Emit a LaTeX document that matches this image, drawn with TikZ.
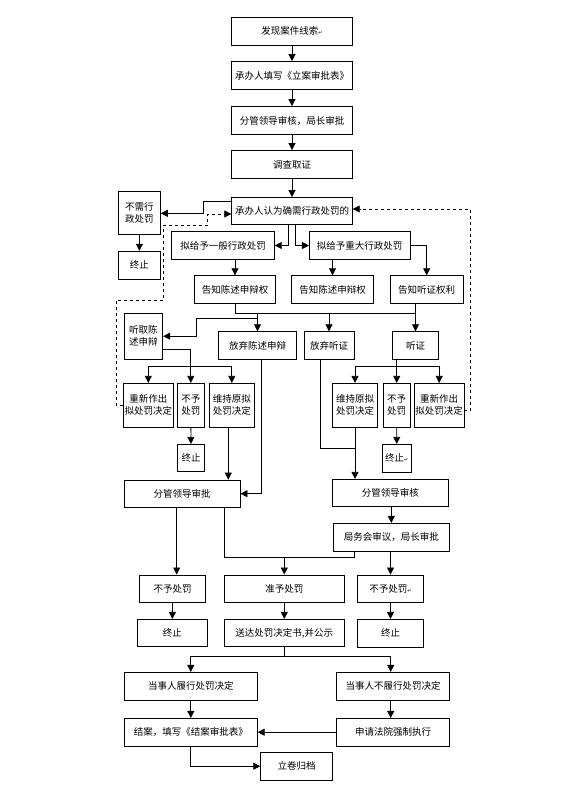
\documentclass[tikz,border=0pt]{standalone}
\usepackage{fontspec}
\newfontfamily\cjk{Noto Sans CJK SC}
\newfontfamily\symfont{DejaVu Sans}
\newcommand{\retmark}{{\symfont\tiny ↵}}
\usetikzlibrary{arrows.meta}

\tikzset{
  box/.style={draw, inner sep=1pt, align=center, font=\cjk\fontsize{9.5}{12}\selectfont},
  arr/.style={-{Triangle[length=7pt,width=7pt]}},
}

\begin{document}
\begin{tikzpicture}[x=1pt,y=-1pt,line width=0.8pt]
    \useasboundingbox[fill=white] (0,0) rectangle (564,795);

    % Opening the case
    \node[box, minimum width=120.6pt, minimum height=28pt] (find) at (292,31) {发现案件线索\retmark};
    \node[box, minimum width=120.6pt, minimum height=28pt] (fill) at (292,75.5) {承办人填写《立案审批表》};
    \node[box, minimum width=120.6pt, minimum height=28pt] (check) at (292,120.5) {分管领导审核，局长审批};
    \node[box, minimum width=120.6pt, minimum height=28pt] (invest) at (292,164.5) {调查取证};
    \node[box, minimum width=120.6pt, minimum height=27pt] (need) at (292,211) {承办人认为确需行政处罚的};

    \draw[arr] (find) -- (fill);
    \draw[arr] (fill) -- (check);
    \draw[arr] (check) -- (invest);
    \draw[arr] (invest) -- (need);

    % No penalty needed
    \node[box, minimum width=42pt, minimum height=43pt] (nopen) at (139.4,213.3) {不需行\\政处罚};
    \node[box, minimum width=42pt, minimum height=28pt] (stopA) at (139.4,265.2) {终止};
    \draw[arr] ([yshift=-4pt]need.north west) -- ++(-28.4,0) |- (nopen.east);
    \draw[arr] (nopen) -- (stopA);

    % Proposed penalties
    \node[box, minimum width=102.6pt, minimum height=27.6pt] (gen) at (223,245.5) {拟给予一般行政处罚};
    \node[box, minimum width=100.7pt, minimum height=27.6pt] (maj) at (359.7,245.5) {拟给予重大行政处罚};
    \draw[arr] ([xshift=-4pt]need.south) |- (gen.east);
    \draw[arr] ([xshift=3pt]need.south) |- (maj.west);

    % Notices
    \node[box, minimum width=81.4pt, minimum height=27.6pt] (tellA) at (235,289.5) {告知陈述申辩权};
    \node[box, minimum width=81.6pt, minimum height=27.6pt] (tellB) at (332.5,289.5) {告知陈述申辩权};
    \node[box, minimum width=73.3pt, minimum height=27.6pt] (tellC) at (426.7,289.5) {告知听证权利};
    \draw[arr] (gen.south -| tellA.north) -- (tellA.north);
    \draw[arr] (maj.south -| tellB.north) -- (tellB.north);
    \draw[arr] (maj.east) -| (tellC.north);

    % Statements and hearings
    \node[box, minimum width=38.7pt, minimum height=45.7pt] (hear) at (143.4,336.2) {听取陈\\述申辩};
    \node[box, minimum width=78.4pt, minimum height=27.6pt] (waiveA) at (257.5,345.5) {放弃陈述申辩};
    \node[box, minimum width=50pt, minimum height=27.6pt] (waiveB) at (329,345.5) {放弃听证};
    \node[box, minimum width=45.6pt, minimum height=27.6pt] (hearing) at (415.5,345.5) {听证};

    \path (tellA.south) ++(0,9.4) coordinate (bus1);
    \path (tellA.south) ++(0,15) coordinate (bus2);
    \draw (tellA.south) -- (bus1) -| (hearing.north |- tellC.south);
    \draw[arr] (hearing.north |- bus1) -- (hearing.north);
    \draw[arr] (bus1 -| waiveA.north) -- (waiveA.north);
    \draw[arr] (bus1 -| waiveB.north) -- (waiveB.north);
    \draw[arr] (bus2 -| waiveA.north) -- ++(-61.5,0) |- (hear.east);

    % Left decisions
    \node[box, minimum width=48pt, minimum height=44pt] (renewL) at (148.3,405.3) {重新作出\\拟处罚决定};
    \node[box, minimum width=27pt, minimum height=44pt] (noneL) at (190.8,405.3) {不予\\处罚};
    \node[box, minimum width=45pt, minimum height=44pt] (keepL) at (231.8,405.3) {维持原拟\\处罚决定};
    \node[box, minimum width=26.6pt, minimum height=27.4pt] (stopB) at (191,458) {终止};

    \path (noneL.north) ++(0,-16.6) coordinate (busL);
    \draw[arr] ([yshift=-13pt]hear.east) -| (noneL.north);
    \draw[arr] (busL) -| (renewL.north);
    \draw[arr] (busL) -| (keepL.north);
    \draw[arr] (noneL) -- (stopB);

    % Right decisions
    \node[box, minimum width=45.4pt, minimum height=44pt] (keepR) at (355,405.3) {维持原拟\\处罚决定};
    \node[box, minimum width=26.7pt, minimum height=44pt] (noneR) at (396.7,405.3) {不予\\处罚};
    \node[box, minimum width=48.3pt, minimum height=44pt] (renewR) at (439.2,405.3) {重新作出\\拟处罚决定};
    \node[box, minimum width=28.3pt, minimum height=28pt] (stopC) at (396.8,458.3) {终止\retmark};

    \path (noneR.north) ++(0,-16.6) coordinate (busR);
    \draw[arr] (hearing.south -| noneR.north) -- (noneR.north);
    \draw[arr] (busR) -| (keepR.north);
    \draw[arr] (busR) -| (renewR.north);
    \draw[arr] (noneR) -- (stopC);

    % Dashed returns
    \draw[dashed,arr] ([yshift=-5.4pt]renewR.east) -- ++(6,0) |- ([yshift=2pt]need.east);
    \draw[dashed,arr] (renewL.west) -- ++(-7,0) -- ++(0,-105.3) -- ++(47.7,0)
        -- ++(0,-75) -- ++(44,0) |- ([yshift=-3pt]need.west);

    % Leader approval
    \node[box, minimum width=115.7pt, minimum height=27.3pt] (leadA) at (182.2,493.7) {分管领导审批};
    \node[box, minimum width=116pt, minimum height=27.4pt] (leadB) at (390.3,493) {分管领导审核};
    \node[box, minimum width=116pt, minimum height=27.7pt] (meet) at (391.3,537.2) {局务会审议，局长审批};

    \draw[arr] ([xshift=-3.5pt]keepL.south) -- ([xshift=-3.5pt]keepL.south |- leadA.north);
    \draw[arr] ([xshift=4pt]waiveA.south) |- (leadA.east);
    \draw[arr] (keepR.south) -- (keepR.south |- leadB.north);
    \draw ([xshift=-8.3pt]waiveB.south) -- ++(0,89) coordinate (j1) -- (j1 -| keepR.south);
    \draw[arr] (leadB.south -| meet.north) -- (meet.north);

    % Outcomes
    \node[box, minimum width=66.4pt, minimum height=27.7pt] (noneP) at (172.5,588.8) {不予处罚};
    \node[box, minimum width=120pt, minimum height=27.7pt] (allowP) at (284.3,588.8) {准予处罚};
    \node[box, minimum width=65.6pt, minimum height=27.7pt] (noneQ) at (390.5,588.8) {不予处罚\retmark};
    \node[box, minimum width=70pt, minimum height=27.4pt] (stopD) at (172.3,633) {终止};
    \node[box, minimum width=120pt, minimum height=27.4pt] (serve) at (284.3,633) {送达处罚决定书,并公示};
    \node[box, minimum width=65.6pt, minimum height=28pt] (stopE) at (390.5,633.3) {终止};

    \path (allowP.north) ++(0,-16.7) coordinate (bus3);
    \draw[arr] ([xshift=-5.5pt]leadA.south) -- ([xshift=-5.5pt]leadA.south |- noneP.north);
    \draw ([xshift=42pt]leadA.south) |- (bus3) -| ([xshift=-37pt]meet.south);
    \draw[arr] (bus3) -- (allowP.north);
    \draw[arr] (meet.south -| noneQ.north) -- (noneQ.north);
    \draw[arr] (noneP) -- (stopD);
    \draw[arr] (allowP) -- (serve);
    \draw[arr] (noneQ) -- (stopE);

    % Execution and closing
    \node[box, minimum width=133pt, minimum height=27.7pt] (comply) at (190.8,686.2) {当事人履行处罚决定};
    \node[box, minimum width=112.6pt, minimum height=27.7pt] (refuse) at (393,686.2) {当事人不履行处罚决定};
    \node[box, minimum width=133pt, minimum height=27.7pt] (close) at (190.8,732.2) {结案，填写《结案审批表》};
    \node[box, minimum width=112.6pt, minimum height=27.7pt] (court) at (393,732.2) {申请法院强制执行};
    \node[box, minimum width=71.6pt, minimum height=27.7pt] (archive) at (296.5,766.2) {立卷归档};

    \path (serve.south) ++(0,9.3) coordinate (bus4);
    \draw (serve.south) -- (bus4);
    \draw[arr] (bus4) -| (comply.north);
    \draw[arr] (bus4) -| ([xshift=-2.3pt]refuse.north);
    \draw[arr] (comply) -- (close);
    \draw[arr] ([xshift=-2.3pt]refuse.south) -- ([xshift=-2.3pt]court.north);
    \draw[arr] (court) -- (close);
    \draw[arr] (close.south) |- (archive.west);
\end{tikzpicture}
\end{document}
